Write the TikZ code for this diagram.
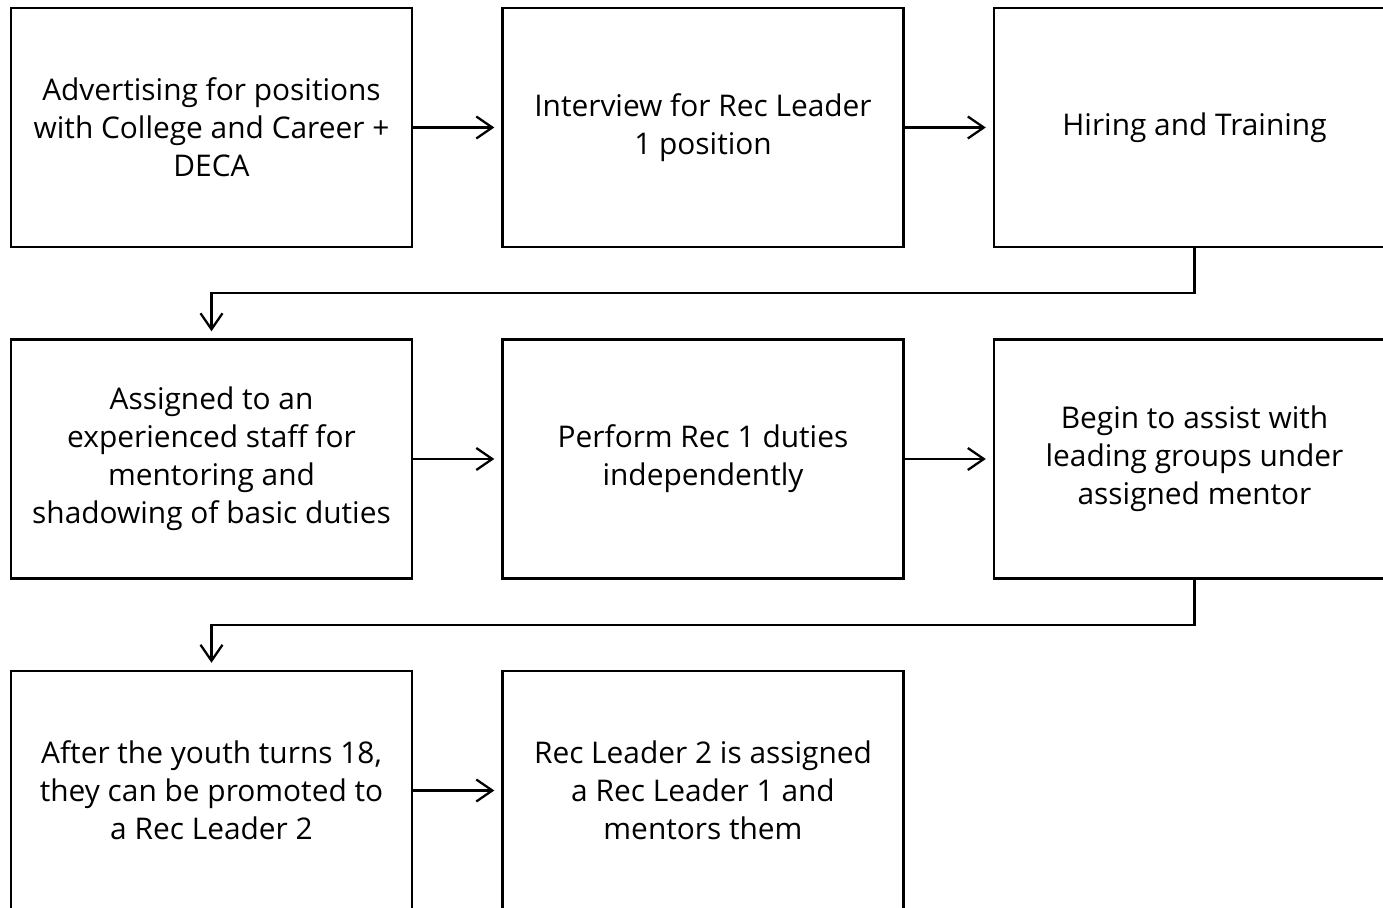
\documentclass[tikz,border=0pt]{standalone}
\usepackage{fontspec}
\setmainfont{Open Sans}
\usetikzlibrary{arrows.meta}
\begin{document}
\begin{tikzpicture}[x=0.02cm,y=-0.02cm,
	stepbox/.style={draw,line width=1.4pt,minimum width=8.02cm,minimum height=4.78cm,
		align=center,inner sep=0pt,font=\fontsize{17}{21.6}\selectfont},
	flow/.style={line width=1.3pt,-{Straight Barb[length=0.32cm,width=0.44cm]},shorten >=0.14cm}]
\useasboundingbox (0,0) rectangle (1383,908);
\clip (0,0) rectangle (1383,908);
% first row
\node[stepbox] (advert) at (211.5,127.5) {Advertising for positions\\with College and Career +\\DECA};
\node[stepbox] (interview) at (703,127.5) {Interview for Rec Leader\\1 position};
\node[stepbox] (hiring) at (1194.5,127.5) {Hiring and Training};
% second row
\node[stepbox] (mentor) at (211.5,459) {Assigned to an\\experienced staff for\\mentoring and\\shadowing of basic duties};
\node[stepbox] (perform) at (703,459) {Perform Rec 1 duties\\independently};
\node[stepbox] (assist) at (1194.5,459) {Begin to assist with\\leading groups under\\assigned mentor};
% third row
\node[stepbox] (promote) at (211.5,790.5) {After the youth turns 18,\\they can be promoted to\\a Rec Leader 2};
\node[stepbox] (leader) at (703,790.5) {Rec Leader 2 is assigned\\a Rec Leader 1 and\\mentors them};
\coordinate (turn1) at (211.5,293);
\coordinate (turn2) at (211.5,625);
\draw[flow] (advert) -- (interview);
\draw[flow] (interview) -- (hiring);
\draw[flow] (hiring.south) |- (turn1) -- (mentor.north);
\draw[flow] (mentor) -- (perform);
\draw[flow] (perform) -- (assist);
\draw[flow] (assist.south) |- (turn2) -- (promote.north);
\draw[flow] (promote) -- (leader);
\end{tikzpicture}
\end{document}
